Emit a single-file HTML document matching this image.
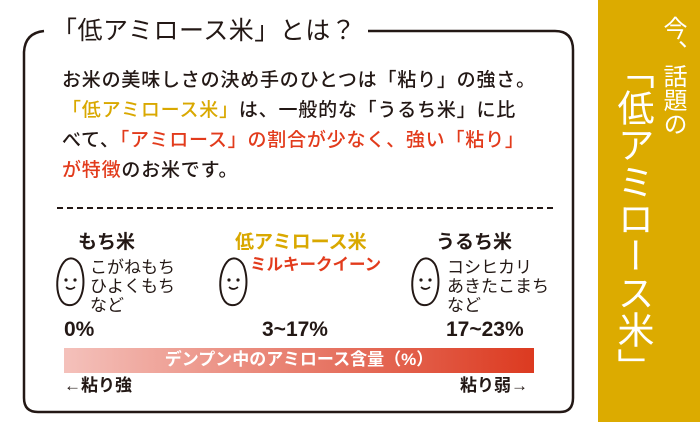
<!DOCTYPE html><html><head><meta charset="utf-8"><style>
body{margin:0;width:700px;height:435px;background:#fff;position:relative;overflow:hidden;font-family:"Liberation Sans","Noto Sans CJK JP",sans-serif;color:#231815}
.a{position:absolute;white-space:nowrap;line-height:1}
.v{writing-mode:vertical-rl;text-orientation:upright;color:#fff;position:absolute;line-height:1}
</style></head><body>
<svg width="700" height="435" style="position:absolute;left:0;top:0">
<path d="M44,31 Q25,33 24,52 L24,398 Q24,412 38,412 L560,412 Q573,412 573,398 L573,50 Q573,31 555,31 L368,31" fill="none" stroke="#231815" stroke-width="2.5"/>
<line x1="57" y1="208" x2="556" y2="208" stroke="#231815" stroke-width="2" stroke-dasharray="6,4"/>
<defs><linearGradient id="g"><stop offset="0" stop-color="#f4c1bb"/><stop offset="1" stop-color="#dc3a20"/></linearGradient></defs>
<rect x="64" y="348" width="470" height="25" fill="url(#g)"/>
<g fill="none" stroke="#231815" stroke-width="2">
<path d="M66,260 C54,270 54,303 68,305 C82,307 86,285 82,270 C80,260 72,256 66,260Z"/>
<path d="M229,260 C217,270 217,303 231,305 C245,307 249,285 245,270 C243,260 235,256 229,260Z"/>
<path d="M421,260 C409,270 409,303 423,305 C437,307 441,285 437,270 C435,260 427,256 421,260Z"/>
</g>
<g fill="#231815"><circle cx="66" cy="280" r="1.6"/><circle cx="75" cy="280" r="1.6"/><circle cx="229" cy="280" r="1.6"/><circle cx="238" cy="280" r="1.6"/><circle cx="421" cy="280" r="1.6"/><circle cx="430" cy="280" r="1.6"/></g>
<g fill="none" stroke="#231815" stroke-width="1.6"><path d="M66,287 Q70,291 75,287"/><path d="M229,287 Q233,291 238,287"/><path d="M421,287 Q425,291 430,287"/></g>
</svg>
<div class="a" style="left:52px;top:19px;font-size:25px;letter-spacing:0.5px">「低アミロース米」とは？</div>
<div class="a" style="left:62px;top:66px;font-size:19px;letter-spacing:0.8px;line-height:30px;font-weight:500">お米の美味しさの決め手のひとつは「粘り」の強さ。<br><span style="color:#d9a800">「低アミロース米」</span>は、一般的な「うるち米」に比<br>べて、<span style="color:#e23b1c">「アミロース」の割合が少なく、強い「粘り」</span><br><span style="color:#e23b1c">が特徴</span>のお米です。</div>
<div class="a" style="left:78px;top:233px;font-size:19px;font-weight:bold">もち米</div>
<div class="a" style="left:235px;top:233px;font-size:19px;font-weight:bold;color:#d9a800">低アミロース米</div>
<div class="a" style="left:436px;top:233px;font-size:19px;font-weight:bold">うるち米</div>
<div class="a" style="left:90px;top:258px;font-size:17px;line-height:19px">こがねもち<br>ひよくもち<br>など</div>
<div class="a" style="left:250px;top:257px;font-size:16.5px;color:#e23b1c;font-weight:bold">ミルキークイーン</div>
<div class="a" style="left:447px;top:258px;font-size:17px;line-height:19px">コシヒカリ<br>あきたこまち<br>など</div>
<div class="a" style="left:64px;top:319px;font-size:21px;font-weight:bold">0%</div>
<div class="a" style="left:262px;top:319px;font-size:21px;font-weight:bold">3~17%</div>
<div class="a" style="left:446px;top:319px;font-size:21px;font-weight:bold">17~23%</div>
<div class="a" style="left:64px;top:351px;width:470px;text-align:center;font-size:17px;color:#fff;font-weight:bold">デンプン中のアミロース含量（%）</div>
<div class="a" style="left:64px;top:377px;font-size:17px;font-weight:bold">←粘り強</div>
<div class="a" style="left:460px;top:377px;font-size:17px;font-weight:bold">粘り弱→</div>
<div style="position:absolute;left:598px;top:0;width:102px;height:422px;background:#dcab00"></div>
<div class="v" style="left:660px;top:16px;font-size:24px;line-height:24px">今、話題の</div>
<div class="v" style="left:614px;top:52px;font-size:37px;line-height:37px">「低アミロース米」</div>
</body></html>
